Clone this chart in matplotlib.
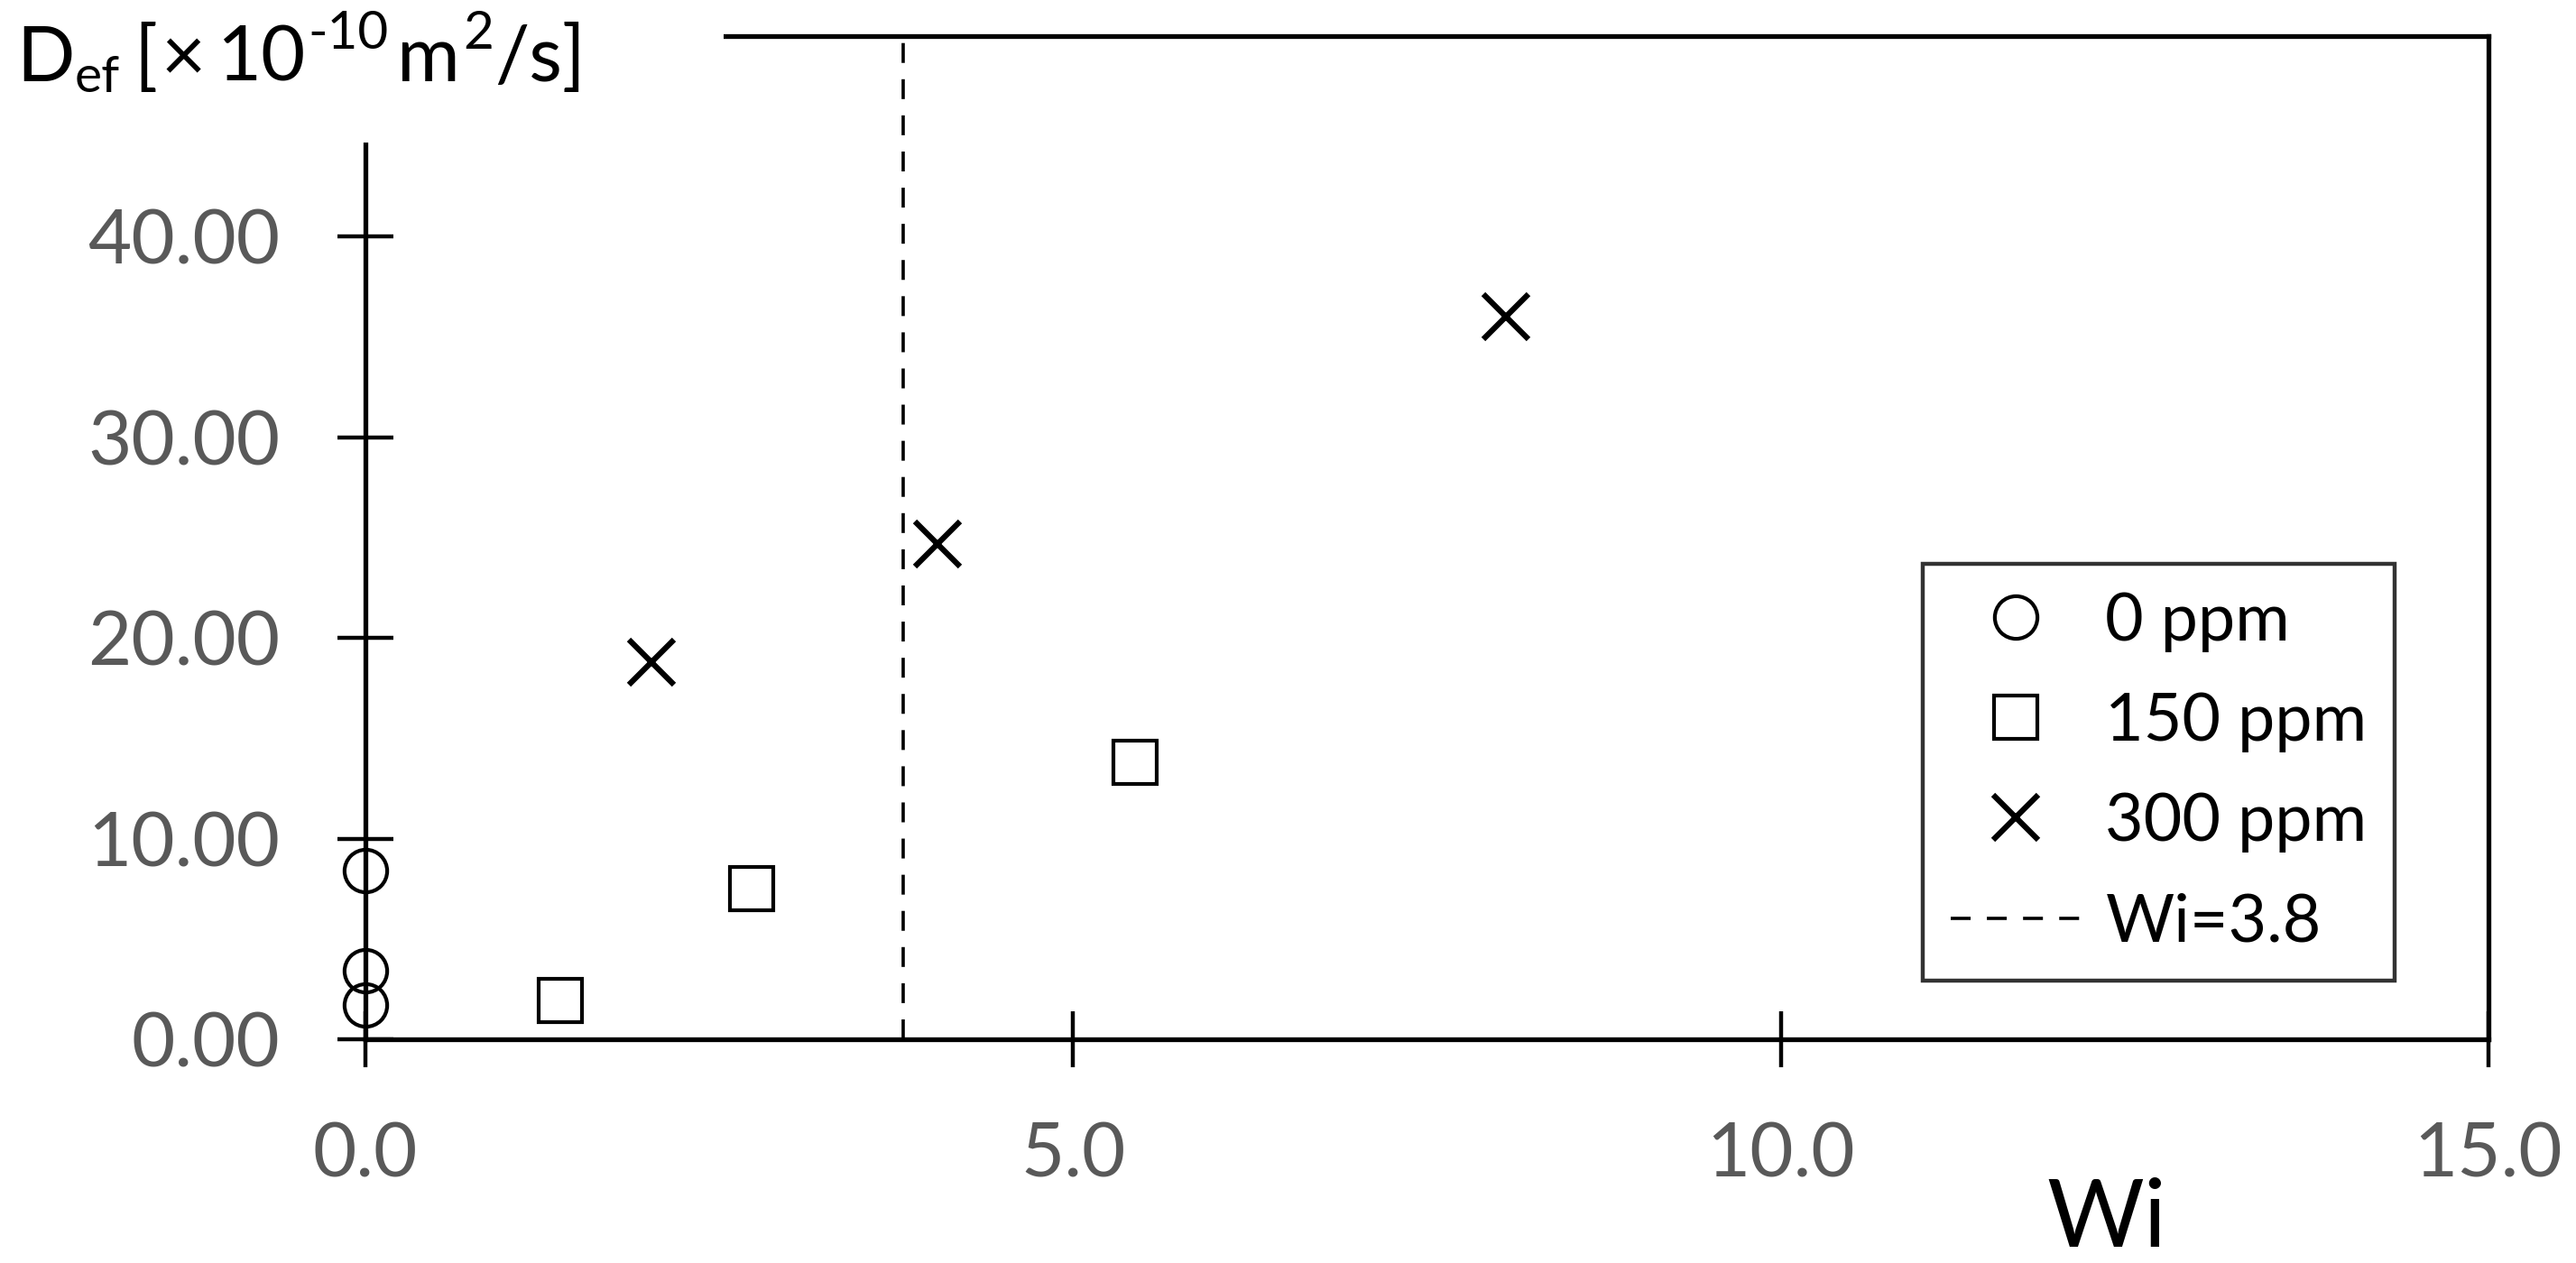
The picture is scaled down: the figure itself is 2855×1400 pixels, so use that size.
import matplotlib
matplotlib.use("Agg")
import matplotlib.pyplot as plt
from matplotlib.patches import Rectangle

plt.rcParams['font.family'] = ['Lato', 'DejaVu Sans']

# data
wi_0ppm = [0.0, 0.0, 0.0]
d_0ppm = [8.4, 3.4, 1.7]
wi_150ppm = [1.38, 2.73, 5.44]
d_150ppm = [1.95, 7.5, 13.8]
wi_300ppm = [2.02, 4.04, 8.06]
d_300ppm = [18.8, 24.7, 36.0]
wi_crit = 3.8

xticks = [0, 5, 10, 15]
yticks = [0, 10, 20, 30, 40]

W, H = 2855, 1400
fig = plt.figure(figsize=(W / 100, H / 100), dpi=100)
ax = fig.add_axes([405 / W, 1 - 1152 / H, (2758 - 405) / W, (1152 - 40) / H])

ax.plot(wi_0ppm, d_0ppm, 'o', ms=34, mfc='none', mec='black', mew=3,
        clip_on=False, zorder=4, label='0 ppm')
ax.plot(wi_150ppm, d_150ppm, 's', ms=34, mfc='none', mec='black', mew=3,
        zorder=4, label='150 ppm')
ax.plot(wi_300ppm, d_300ppm, 'x', ms=36, mec='black', mew=4.5,
        zorder=4, label='300 ppm')
ax.axvline(wi_crit, color='black', lw=2.6, dashes=(6.1, 5.0), label='Wi=3.8')

ax.set_xlim(0, 15)
ax.set_ylim(0, 50)
ax.set_xticks(xticks)
ax.set_xticklabels([f'{v:.1f}' for v in xticks])
ax.set_yticks(yticks)
ax.set_yticklabels([f'{v:.2f}' for v in yticks])

for s in ax.spines.values():
    s.set_linewidth(3.8)
    s.set_color('black')

ax.tick_params(axis='both', direction='inout', length=44, width=3.2,
               color='black', labelcolor='#595959', labelsize=60)
ax.tick_params(axis='x', pad=44)
ax.tick_params(axis='y', pad=46)

# legend
leg = ax.legend(loc='upper left', bbox_to_anchor=(2131 / W, 1 - 625 / H),
                bbox_transform=fig.transFigure, fontsize=53,
                frameon=True, fancybox=False, edgecolor='black',
                handlelength=1.95, handletextpad=0.38, labelspacing=0.6,
                borderpad=0.42, borderaxespad=0, markerscale=1.0)
leg.get_frame().set_linewidth(3.2)

# white box under the y label covering the frame corner
fig.patches.append(Rectangle((0, 1 - 158 / H), 802 / W, 158 / H,
                             transform=fig.transFigure, facecolor='white',
                             edgecolor='none', zorder=5))

# y label built piece by piece: D_ef [× 10^-10 m^2/s]
renderer = fig.canvas.get_renderer()
pieces = [
    ('D', 61, 0, 0),
    ('ef', 41, 12, 0),
    ('[', 61, 0, 16),
    ('×', 61, 0, 4),
    ('10', 61, 0, 12),
    ('-10', 42, -36, 3),
    ('m', 61, 0, 10),
    ('2', 42, -36, 3),
    ('/s]', 61, 0, 1),
]
x = 18
base = 90
for txt, size, dy, gap in pieces:
    x += gap
    t = fig.text(x / W, 1 - (base + dy) / H, txt, fontsize=size,
                 color='black', ha='left', va='baseline', zorder=6)
    x = t.get_window_extent(renderer).x1

fig.text(2335 / W, 1 - 1382 / H, 'Wi', fontsize=75, color='black',
         ha='center', va='baseline')

fig.savefig('out.png', dpi=100)
